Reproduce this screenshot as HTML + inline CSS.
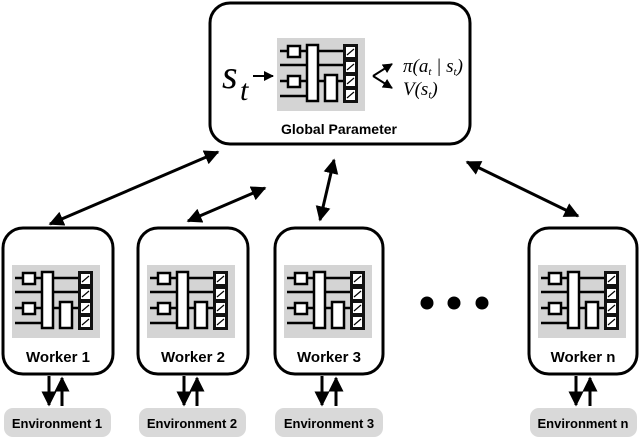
<!DOCTYPE html>
<html><head><meta charset="utf-8"><style>
body{margin:0;background:#fff}
svg{display:block}
.lbl{font-family:"Liberation Sans",sans-serif;font-weight:bold;text-anchor:middle}
</style></head><body>
<svg width="640" height="439" viewBox="0 0 640 439" xmlns="http://www.w3.org/2000/svg">
<defs>
<marker id="ah" viewBox="0 0 10 10" refX="9" refY="5" markerWidth="5" markerHeight="5" orient="auto-start-reverse"><path d="M0,0L10,5L0,10z" fill="#000"/></marker>
<g id="icon">
<rect x="0" y="0" width="88" height="73" fill="#d4d4d4"/>
<g stroke="#000" stroke-width="2.5" fill="none">
<line x1="3" y1="13" x2="66" y2="13"/><line x1="3" y1="27" x2="30" y2="27"/>
<line x1="3" y1="43" x2="48" y2="43"/><line x1="3" y1="58" x2="30" y2="58"/>
<line x1="41" y1="27" x2="66" y2="27"/><line x1="60" y1="43" x2="66" y2="43"/>
</g>
<g stroke="#000" stroke-width="2.5" fill="#fff">
<rect x="11" y="8" width="12" height="11"/><rect x="11" y="38" width="12" height="11"/>
<rect x="30" y="7" width="11" height="56"/><rect x="48" y="37" width="12" height="26"/>
</g>
<rect x="66" y="6" width="15" height="59" fill="#111"/>
<g fill="#fff"><rect x="69" y="9" width="9" height="10"/><rect x="69" y="24" width="9" height="10"/><rect x="69" y="38" width="9" height="10"/><rect x="69" y="52" width="9" height="10"/></g>
<g stroke="#000" stroke-width="1.2"><line x1="70" y1="17" x2="77" y2="11"/><line x1="70" y1="32" x2="77" y2="26"/><line x1="70" y1="46" x2="77" y2="40"/><line x1="70" y1="60" x2="77" y2="54"/></g>
</g>
</defs>
<g fill="none" stroke="#000" stroke-width="3">
<rect x="210" y="3" width="260" height="141" rx="20"/>
<rect x="3" y="228" width="110" height="146" rx="20"/>
<rect x="138" y="228" width="110" height="146" rx="20"/>
<rect x="275" y="228" width="108" height="146" rx="20"/>
<rect x="529" y="228" width="108" height="146" rx="20"/>
</g>
<use href="#icon" x="277" y="38"/>
<use href="#icon" x="12" y="265"/>
<use href="#icon" x="147" y="265"/>
<use href="#icon" x="284" y="265"/>
<use href="#icon" x="538" y="265"/>
<text x="222" y="88" font-family="Liberation Serif,serif" font-style="italic" font-size="40">s</text>
<text x="240" y="100" font-family="Liberation Serif,serif" font-style="italic" font-size="30">t</text>
<g stroke="#000" stroke-width="2" fill="none" marker-end="url(#ah)">
<line x1="253" y1="76" x2="273" y2="76"/>
<line x1="373" y1="76" x2="392" y2="64"/><line x1="373" y1="76" x2="392" y2="88"/>
</g>
<text x="403" y="72" font-family="Liberation Serif,serif" font-style="italic" font-size="19">π(a<tspan font-size="11" dy="3">t</tspan><tspan dy="-3"> | s</tspan><tspan font-size="11" dy="3">t</tspan><tspan dy="-3">)</tspan></text>
<text x="403" y="95" font-family="Liberation Serif,serif" font-style="italic" font-size="19">V(s<tspan font-size="11" dy="3">t</tspan><tspan dy="-3">)</tspan></text>
<text class="lbl" x="339" y="134" font-size="14">Global Parameter</text>
<g stroke="#000" stroke-width="3" marker-end="url(#ah)" marker-start="url(#ah)">
<line x1="50" y1="224" x2="218" y2="152"/>
<line x1="188" y1="221" x2="265" y2="188"/>
<line x1="320" y1="220" x2="334" y2="160"/>
<line x1="578" y1="216" x2="467" y2="162"/>
</g>
<text class="lbl" x="58" y="362" font-size="15">Worker 1</text>
<text class="lbl" x="193" y="362" font-size="15">Worker 2</text>
<text class="lbl" x="329" y="362" font-size="15">Worker 3</text>
<text class="lbl" x="583" y="362" font-size="15">Worker n</text>
<g fill="#000"><circle cx="427" cy="303" r="6.5"/><circle cx="454" cy="303" r="6.5"/><circle cx="482" cy="303" r="6.5"/></g>
<g fill="#d9d9d9">
<rect x="4" y="408" width="107" height="29" rx="9"/>
<rect x="139" y="408" width="107" height="29" rx="9"/>
<rect x="275" y="408" width="108" height="29" rx="9"/>
<rect x="530" y="408" width="107" height="29" rx="9"/>
</g>
<text class="lbl" x="57" y="428" font-size="13">Environment 1</text>
<text class="lbl" x="192" y="428" font-size="13">Environment 2</text>
<text class="lbl" x="329" y="428" font-size="13">Environment 3</text>
<text class="lbl" x="583" y="428" font-size="13">Environment n</text>
<g stroke="#000" stroke-width="3" marker-end="url(#ah)">
<line x1="49" y1="376" x2="49" y2="405"/><line x1="62" y1="406" x2="62" y2="378"/>
<line x1="184" y1="376" x2="184" y2="405"/><line x1="197" y1="406" x2="197" y2="378"/>
<line x1="322" y1="376" x2="322" y2="405"/><line x1="336" y1="406" x2="336" y2="378"/>
<line x1="576" y1="376" x2="576" y2="405"/><line x1="590" y1="406" x2="590" y2="378"/>
</g>
</svg>
</body></html>
